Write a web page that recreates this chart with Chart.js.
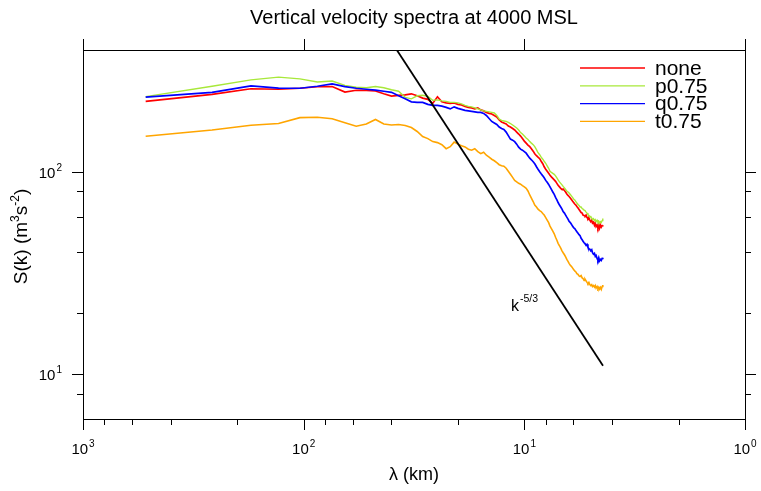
<!DOCTYPE html>
<html><head><meta charset="utf-8">
<script src="https://cdn.jsdelivr.net/npm/chart.js@4.4.1/dist/chart.umd.min.js"></script>
<style>html,body{margin:0;padding:0;background:#fff;}canvas{display:block;}</style>
</head><body>
<canvas id="c" width="761" height="491"></canvas>
<script>
// wavelength (km) of each spectral sample
const wavelength = [520,260,173.33,130,104,86.67,74.29,65,57.78,52,47.27,43.33,40,37.14,34.67,32.5,30.59,28.89,27.37,26,24.76,23.64,22.61,21.67,20.8,20,19.26,18.57,17.93,17.33,16.77,16.25,15.76,15.29,14.86,14.44,14.05,13.68,13.33,13,12.68,12.38,12.09,11.82,11.56,11.3,11.06,10.83,10.61,10.4,10.2,10,9.81,9.63,9.45,9.29,9.12,8.97,8.81,8.67,8.52,8.39,8.25,8.13,8,7.88,7.76,7.65,7.54,7.43,7.32,7.22,7.12,7.03,6.93,6.84,6.75,6.67,6.58,6.5,6.42,6.34,6.27,6.19,6.12,6.05,5.98,5.91,5.84,5.78,5.71,5.65,5.59,5.53,5.47,5.42,5.36,5.31,5.25,5.2,5.15,5.1,5.05,5,4.95,4.91,4.86,4.81,4.77,4.73,4.68,4.64,4.6,4.56,4.52,4.48,4.44,4.41];
const seriesNone = [223.0,241.6,257.3,255.9,258.8,263.3,263.9,248.0,252.9,252.9,250.9,243.0,236.7,238.8,240.2,243.0,237.5,231.3,228.2,217.9,234.8,221.7,219.2,217.9,219.2,215.4,214.2,210.6,208.2,207.0,204.6,207.0,202.3,200.0,196.6,194.4,193.2,189.9,186.7,180.4,176.3,174.3,172.3,168.4,166.5,163.6,160.9,157.2,153.7,150.2,145.9,141.8,138.6,135.5,133.1,130.1,126.5,122.9,120.1,118.1,116.1,112.8,109.6,105.9,102.9,100.6,98.3,96.1,94.4,92.8,91.2,89.7,87.7,85.7,84.2,82.8,81.8,82.3,80.9,79.5,77.7,76.4,75.5,74.2,73.0,71.7,70.5,69.3,68.5,67.4,66.2,65.1,64.0,62.9,62.5,61.1,60.8,60.4,61.1,59.4,58.7,59.7,57.7,56.7,57.7,55.8,56.4,54.5,55.8,53.6,54.5,53.0,54.8,52.7,54.5,53.3,54.2,54.5];
const seriesP075 = [235.3,264.8,284.7,293.6,287.9,277.9,281.1,267.3,261.8,260.3,263.9,260.3,254.4,250.1,233.4,229.5,237.5,238.8,236.1,225.5,226.8,224.2,223.0,220.4,220.4,219.2,216.7,213.0,210.6,209.4,207.0,204.6,202.3,200.0,198.9,197.7,196.6,195.4,189.9,182.4,179.4,178.4,177.4,175.3,173.3,170.3,167.5,164.6,160.9,156.3,153.7,150.2,146.8,144.3,141.0,138.6,136.2,133.1,128.7,124.3,121.5,118.1,115.4,112.8,110.2,107.1,104.1,100.6,99.4,98.3,97.2,95.5,93.4,91.2,89.2,87.7,86.2,84.7,83.3,81.8,80.4,79.5,78.6,77.3,76.0,74.7,73.4,72.6,71.3,70.1,68.9,68.1,67.0,67.0,65.8,65.4,64.7,64.3,63.2,62.5,61.5,60.8,59.7,60.1,59.0,58.0,58.7,57.4,58.0,56.7,57.7,56.4,57.0,55.8,56.7,56.1,57.4,58.7];
const seriesQ075 = [234.2,247.2,265.7,259.4,258.8,264.8,271.9,263.9,258.8,255.9,253.5,250.1,247.2,237.5,229.5,221.7,220.4,220.4,215.4,213.0,213.0,211.0,208.2,204.6,209.4,205.8,203.4,201.2,200.0,198.9,197.7,196.6,196.6,194.4,189.9,183.5,177.4,174.3,171.3,166.5,163.6,161.8,157.2,151.0,145.1,143.4,141.0,137.0,132.4,129.4,127.9,125.8,123.6,120.1,116.7,114.7,112.1,109.6,105.9,102.9,100.0,97.7,95.5,93.4,90.7,88.7,86.6,84.2,81.8,79.5,77.3,74.7,72.6,70.5,68.5,67.0,65.4,63.6,62.5,61.1,59.7,58.4,57.0,56.1,55.1,53.9,53.0,52.4,51.4,50.6,49.7,48.9,48.3,46.9,46.1,45.4,44.6,44.1,43.3,43.8,42.4,41.6,41.4,40.7,41.2,39.8,39.1,39.5,38.2,38.6,37.3,36.5,37.6,36.3,36.9,36.5,37.3,37.6];
const seriesT075 = [149.8,160.9,169.9,173.3,185.2,186.1,182.9,174.7,168.0,172.3,181.4,172.3,170.3,171.3,169.4,165.5,158.2,149.4,145.9,141.0,139.4,136.2,130.1,133.1,140.2,137.0,134.7,132.7,129.4,127.9,130.1,125.8,122.9,125.0,120.8,118.1,115.4,113.4,110.9,108.4,107.1,106.5,104.1,100.6,97.2,93.9,90.7,89.2,87.7,86.9,85.5,84.2,82.8,80.4,76.8,74.2,71.3,68.5,67.0,65.4,64.3,63.6,62.2,61.1,59.4,57.7,56.1,53.9,52.4,50.9,49.4,47.5,45.9,44.3,43.1,41.9,40.7,39.8,38.9,38.0,36.9,36.1,35.3,34.5,34.1,33.5,32.9,32.4,32.0,31.4,31.1,30.6,30.4,30.7,29.9,29.7,29.0,29.5,28.9,28.4,28.0,28.4,27.7,27.4,27.7,27.1,27.4,26.9,27.4,26.6,27.1,26.5,26.9,26.3,26.8,26.2,27.1,27.6];
// reference slope line k^-5/3
const refLambda = [40, 4.4];
const refS = [439, 11.0];
const seriesNames = ['none', 'p0.75', 'q0.75', 't0.75'];
const seriesColors = ['#ff0000', '#a8e83a', '#0000ff', '#ffa500'];
const xMajorTicks = [1000, 100, 10, 1];
const xMajorExp = ['3', '2', '1', '0'];
const xMinorTicks = [800, 600, 400, 200, 80, 60, 40, 20, 8, 6, 4, 2];
const yMajorTicks = [100, 10];
const yMajorExp = ['2', '1'];
const yMinorTicks = [80, 60, 40, 20, 8];
const titleText = 'Vertical velocity spectra at 4000 MSL';
const xTitle = '\u03bb (km)';

const FONT = '"Liberation Sans", Arial, Helvetica, sans-serif';
function pts(xs, ys) { return xs.map((x, i) => ({x: x, y: ys[i]})); }

const decor = {
  id: 'decor',
  afterDraw(chart) {
    const ctx = chart.ctx, a = chart.chartArea;
    const xs = chart.scales.x, ys = chart.scales.y;
    ctx.save();
    ctx.strokeStyle = '#000'; ctx.fillStyle = '#000'; ctx.lineWidth = 1;
    // frame
    ctx.strokeRect(Math.round(a.left) + 0.5, Math.round(a.top) + 0.5, Math.round(a.right - a.left), Math.round(a.bottom - a.top));
    ctx.beginPath();
    xMajorTicks.forEach(v => {
      const px = Math.round(xs.getPixelForValue(v)) + 0.5;
      ctx.moveTo(px, a.bottom); ctx.lineTo(px, a.bottom + 11);
      ctx.moveTo(px, a.top); ctx.lineTo(px, a.top - 11);
    });
    xMinorTicks.forEach(v => {
      const px = Math.round(xs.getPixelForValue(v)) + 0.5;
      ctx.moveTo(px, a.bottom); ctx.lineTo(px, a.bottom + 6);
    });
    yMajorTicks.forEach(v => {
      const py = Math.round(ys.getPixelForValue(v)) + 0.5;
      ctx.moveTo(a.left, py); ctx.lineTo(a.left - 11, py);
      ctx.moveTo(a.right, py); ctx.lineTo(a.right + 11, py);
    });
    yMinorTicks.forEach(v => {
      const py = Math.round(ys.getPixelForValue(v)) + 0.5;
      ctx.moveTo(a.left, py); ctx.lineTo(a.left - 6, py);
      ctx.moveTo(a.right, py); ctx.lineTo(a.right + 6, py);
    });
    ctx.stroke();

    // power-of-ten label helper
    function powLabel(exp, x, y, align) {
      ctx.font = '15px ' + FONT;
      const wb = ctx.measureText('10').width;
      ctx.font = '10px ' + FONT;
      const we = ctx.measureText(exp).width;
      const tot = wb + we + 1;
      let x0 = align === 'center' ? x - tot / 2 : x - tot;
      ctx.textAlign = 'left'; ctx.textBaseline = 'alphabetic';
      ctx.font = '15px ' + FONT; ctx.fillText('10', x0, y);
      ctx.font = '10px ' + FONT; ctx.fillText(exp, x0 + wb + 1, y - 7);
    }
    xMajorTicks.forEach((v, i) => powLabel(xMajorExp[i], xs.getPixelForValue(v), 454, 'center'));
    yMajorTicks.forEach((v, i) => powLabel(yMajorExp[i], 62, ys.getPixelForValue(v) + 6, 'right'));

    // title
    ctx.textAlign = 'center'; ctx.textBaseline = 'alphabetic';
    ctx.font = '20px ' + FONT;
    ctx.fillText(titleText, (a.left + a.right) / 2, 24);
    // x title
    ctx.font = '18px ' + FONT;
    ctx.fillText(xTitle, (a.left + a.right) / 2, 480);

    // y title with superscripts
    ctx.save();
    ctx.translate(27, (a.top + a.bottom) / 2 + 2);
    ctx.rotate(-Math.PI / 2);
    const parts = [['S(k) (m', 19, 0], ['3', 12, -8], ['s', 19, 0], ['-2', 12, -8], [')', 19, 0]];
    let tw = 0;
    parts.forEach(p => { ctx.font = p[1] + 'px ' + FONT; tw += ctx.measureText(p[0]).width; });
    let cx = -tw / 2;
    ctx.textAlign = 'left';
    parts.forEach(p => { ctx.font = p[1] + 'px ' + FONT; ctx.fillText(p[0], cx, p[2]); cx += ctx.measureText(p[0]).width; });
    ctx.restore();

    // k^-5/3 label
    ctx.textAlign = 'left';
    ctx.font = '16px ' + FONT;
    ctx.fillText('k', 511, 311);
    ctx.font = '10.5px ' + FONT;
    ctx.fillText('-5/3', 520, 302);

    // legend
    seriesNames.forEach((n, i) => {
      const y = 68 + i * 17.8;
      ctx.strokeStyle = seriesColors[i]; ctx.lineWidth = 1.3;
      ctx.beginPath(); ctx.moveTo(580, y); ctx.lineTo(645, y); ctx.stroke();
      ctx.fillStyle = '#000'; ctx.font = '21px ' + FONT; ctx.textBaseline = 'middle';
      ctx.fillText(n, 655, y + 1);
    });
    ctx.restore();
  }
};

new Chart(document.getElementById('c'), {
  type: 'line',
  data: {
    datasets: [
      {label: 'k-5/3', data: pts(refLambda, refS), borderColor: '#000', borderWidth: 1.8, pointRadius: 0, order: 0},
      {label: seriesNames[3], data: pts(wavelength, seriesT075), borderColor: seriesColors[3], borderWidth: 1.6, pointRadius: 0, order: 1},
      {label: seriesNames[2], data: pts(wavelength, seriesQ075), borderColor: seriesColors[2], borderWidth: 1.7, pointRadius: 0, order: 2},
      {label: seriesNames[1], data: pts(wavelength, seriesP075), borderColor: seriesColors[1], borderWidth: 1.4, pointRadius: 0, order: 3},
      {label: seriesNames[0], data: pts(wavelength, seriesNone), borderColor: seriesColors[0], borderWidth: 1.7, pointRadius: 0, order: 4}
    ]
  },
  options: {
    responsive: false, animation: false, devicePixelRatio: 1,
    layout: {padding: {left: 83, right: 16, top: 50, bottom: 72}},
    elements: {line: {tension: 0, fill: false}},
    plugins: {legend: {display: false}, title: {display: false}, tooltip: {enabled: false}},
    scales: {
      x: {type: 'logarithmic', reverse: true, min: 1, max: 1000, display: false, bounds: 'data'},
      y: {type: 'logarithmic', min: 6, max: 400, display: false, bounds: 'data'}
    }
  },
  plugins: [decor]
});
</script>
</body></html>
